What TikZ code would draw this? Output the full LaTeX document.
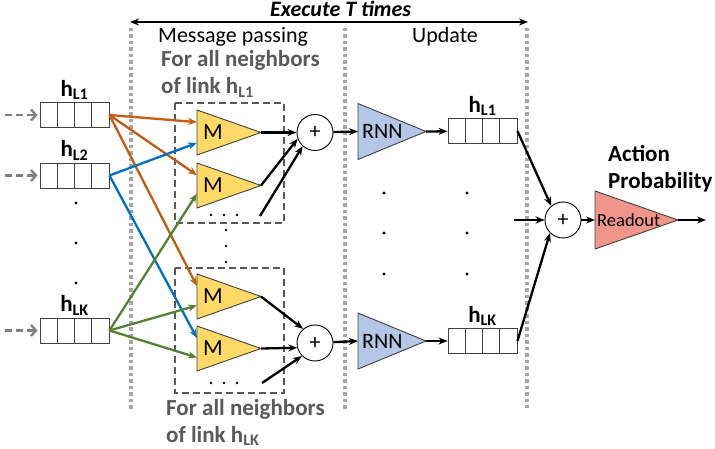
\documentclass[tikz,border=0pt]{standalone}
\usepackage{fontspec}
\setmainfont{Carlito}
\usetikzlibrary{calc,positioning,arrows.meta}

\definecolor{msgorange}{HTML}{C55A11}
\definecolor{msgblue}{HTML}{0070C0}
\definecolor{msggreen}{HTML}{548235}
\definecolor{mfill}{HTML}{FFD966}
\definecolor{rnnfill}{HTML}{B4C7E7}
\definecolor{readfill}{HTML}{F1948A}
\definecolor{textgray}{HTML}{595959}
\definecolor{sepgray}{HTML}{A6A6A6}
\definecolor{edgegray}{HTML}{404040}

\newcommand{\hsub}[1]{h\textsubscript{#1}}
% triangle block: name, left middle, half height, length, fill, text options, text
\newcommand{\gate}[7]{%
  \coordinate (#1) at (#2);
  \draw[edgegray, line width=0.9pt, fill=#5] (#1) ++(0,-#3) coordinate (#1-top)
    -- ++(#4,#3) coordinate (#1-tip) -- ++(-#4,#3) coordinate (#1-bot) -- cycle;
  \node[anchor=west, inner sep=0pt, #6] (#1-txt) at (#1) {#7};}

\tikzset{
  vec/.style={draw=edgegray, line width=0.9pt, minimum width=69pt, minimum height=25pt, inner sep=0pt,
    path picture={\foreach \k in {1,2,3}
      \draw[edgegray, line width=0.9pt]
        ($(path picture bounding box.north west)!\k/4!(path picture bounding box.north east)$)
        -- ($(path picture bounding box.south west)!\k/4!(path picture bounding box.south east)$);}},
  sum/.style={draw=black, line width=0.9pt, circle, minimum size=36pt, inner sep=0pt},
  sep/.style={sepgray, line width=3.5pt, dash pattern=on 3.5pt off 3pt},
  group/.style={textgray, line width=2pt, dash pattern=on 7pt off 4pt},
  flow/.style={->, line width=2.3pt},
  feed/.style={-{Straight Barb[length=5pt,width=11pt]}, gray, line width=2.3pt, dash pattern=on 7pt off 4pt, shorten >=2pt},
  tag/.style={font=\fontsize{23}{26}\selectfont\bfseries, inner sep=1pt},
  hint/.style={textgray, font=\fontsize{23}{26}\selectfont\bfseries, anchor=base west, inner sep=0pt}
}

\begin{document}
\begin{tikzpicture}[x=1pt, y=-1pt, >={Stealth[length=9pt,width=7pt]}, font=\fontsize{22}{26}\selectfont]
    \useasboundingbox (0,0) rectangle (715,449);

    \coordinate (s1a) at (131,28);  \coordinate (s1b) at (131,409);
    \coordinate (s2a) at (345,28);  \coordinate (s2b) at (345,409);
    \coordinate (s3a) at (527,28);  \coordinate (s3b) at (527,408);
    \draw[sep] (s1a) -- (s1b);
    \draw[sep] (s2a) -- (s2b);
    \draw[sep] (s3a) -- (s3b);

    \coordinate (ex-l) at (130,22); \coordinate (ex-r) at (528,22);
    \draw[<->, line width=1.6pt] (ex-l) -- (ex-r);
    \node[anchor=base west, inner sep=0pt, font=\fontsize{22}{26}\selectfont\bfseries\itshape] (exec) at (270,17) {Execute T times};
    \node[anchor=base west, inner sep=0pt] (mp) at (158,43) {Message passing};
    \node[anchor=base west, inner sep=0pt] (upd) at (412,43) {Update};

    \node[hint] (hint1) at (161,67) {For all neighbors};
    \node[hint] (hint1b) at (161,94) {of link \hsub{L1}};
    \node[hint] (hint2) at (166,415) {For all neighbors};
    \node[hint] (hint2b) at (166,442) {of link \hsub{LK}};

    \node[vec] (h1) at (74.5,115) {};
    \node[vec] (h2) at (74.5,175.5) {};
    \node[vec] (hk) at (74.5,330.5) {};
    \node[tag, above=1pt of h1] (h1lab) {\hsub{L1}};
    \node[tag, above=1pt of h2] (h2lab) {\hsub{L2}};
    \node[tag, above=1pt of hk] (hklab) {\hsub{LK}};
    \coordinate (f1) at (5,115);
    \coordinate (f2) at (5,175.5);
    \coordinate (fk) at (5,330.5);
    \draw[feed] (f1) -- (h1);
    \draw[feed] (f2) -- (h2);
    \draw[feed] (fk) -- (hk);
    \foreach \y in {203,243,283} \fill (76,\y) circle (1.6pt);

    \draw[group] (175,103) rectangle (284,223);
    \draw[group] (175,268) rectangle (284,393);
    \gate{m1}{197,132.5}{22.5}{64}{mfill}{xshift=6pt, font=\fontsize{23}{26}\selectfont}{M}
    \gate{m2}{197,185.5}{22.5}{64}{mfill}{xshift=6pt, font=\fontsize{23}{26}\selectfont}{M}
    \gate{m3}{197,296.5}{22.5}{64}{mfill}{xshift=6pt, font=\fontsize{23}{26}\selectfont}{M}
    \gate{m4}{197,348.5}{22.5}{64}{mfill}{xshift=6pt, font=\fontsize{23}{26}\selectfont}{M}
    \foreach \x in {211,224,237} {\fill (\x,215) circle (1.4pt); \fill (\x,383) circle (1.4pt);}
    \foreach \y in {230,246,262} \fill (226,\y) circle (1.3pt);

    \draw[flow, msgorange] (h1.east) -- ($(m1-top)!.27!(m1-bot)$);
    \draw[flow, msgorange] (h1.east) -- ($(m2-top)!.27!(m2-bot)$);
    \draw[flow, msgorange] (h1.east) -- ($(m3-top)!.27!(m3-bot)$);
    \draw[flow, msgblue] (h2.east) -- ($(m1-top)!.73!(m1-bot)$);
    \draw[flow, msgblue] (h2.east) -- ($(m4-top)!.27!(m4-bot)$);
    \draw[flow, msggreen] (hk.east) -- ($(m2-top)!.68!(m2-bot)$);
    \draw[flow, msggreen] (hk.east) -- ($(m3-top)!.7!(m3-bot)$);
    \draw[flow, msggreen] (hk.east) -- ($(m4-top)!.7!(m4-bot)$);

    \node[sum] (sum1) at (315,132.5) {+};
    \node[sum] (sum2) at (315,343) {+};
    \coordinate (more1) at (260,216);
    \coordinate (more2) at (262,383);
    \draw[flow] (m1-tip) -- (sum1);
    \draw[flow] (m2-tip) -- (sum1.200);
    \draw[flow] (more1) -- (sum1.228);
    \draw[flow] (m3-tip) -- (sum2.130);
    \draw[flow] (m4-tip) -- (sum2.195);
    \draw[flow] (more2) -- (sum2.225);

    \gate{rnn1}{358,131.5}{28}{68}{rnnfill}{xshift=4pt}{RNN}
    \gate{rnn2}{358,341}{28}{68}{rnnfill}{xshift=4pt}{RNN}
    \draw[flow] (sum1) -- (rnn1);
    \draw[flow] (sum2) -- (rnn2);

    \node[vec] (u1) at (482.5,131) {};
    \node[vec] (uk) at (482.5,341) {};
    \node[tag, above=1pt of u1] (u1lab) {\hsub{L1}};
    \node[tag, above=1pt of uk] (uklab) {\hsub{LK}};
    \draw[flow] (rnn1-tip) -- (u1);
    \draw[flow] (rnn2-tip) -- (uk);
    \foreach \y in {193,233,274} {\fill (384,\y) circle (1.6pt); \fill (467,\y) circle (1.6pt);}

    \node[sum] (sumout) at (563,220) {+};
    \coordinate (more3) at (514,220);
    \draw[flow] (u1.east) -- (sumout.130);
    \draw[flow] (uk.east) -- (sumout.225);
    \draw[flow] (more3) -- (sumout);

    \gate{ro}{595,220}{29}{83}{readfill}{xshift=2pt, font=\fontsize{18.5}{22}\selectfont}{Readout}
    \coordinate (out) at (706,220);
    \draw[flow] (sumout) -- (ro);
    \draw[flow] (ro-tip) -- (out);
    \node[anchor=base west, inner sep=0pt, font=\fontsize{23}{28}\selectfont\bfseries] (act) at (608,162) {Action};
    \node[anchor=base west, inner sep=0pt, font=\fontsize{23}{28}\selectfont\bfseries] (prob) at (608,189) {Probability};
\end{tikzpicture}
\end{document}
